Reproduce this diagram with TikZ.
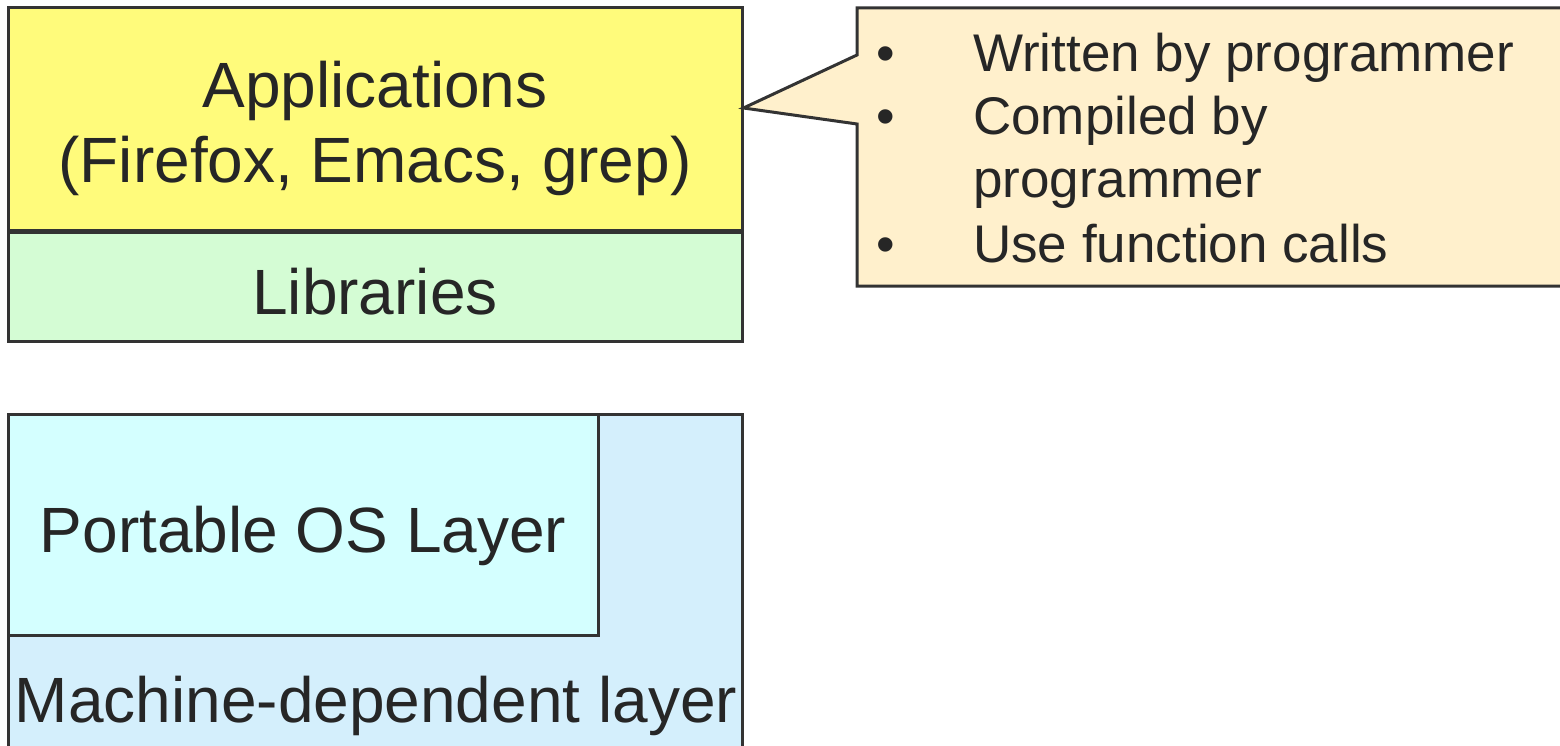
\documentclass[tikz,border=0pt]{standalone}
\usepackage{fontspec}
\setmainfont{Liberation Sans}

\definecolor{lineGray}{HTML}{333333}
\definecolor{textGray}{HTML}{262626}
\definecolor{appYellow}{HTML}{FFFB7B}
\definecolor{libGreen}{HTML}{D4FCD4}
\definecolor{portCyan}{HTML}{D4FFFF}
\definecolor{machBlue}{HTML}{D4EFFC}
\definecolor{noteTan}{HTML}{FFF0CC}

\begin{document}
\begin{tikzpicture}
[x=1pt,y=-1pt,
  layerBox/.style={shape=rectangle,draw=lineGray,line width=3pt,inner sep=0pt,%
    text=textGray,align=center,font=\fontsize{64}{75}\selectfont,%
    text height=55pt,text depth=0pt},
  layerText/.style={inner sep=0pt,text=textGray,font=\fontsize{64}{75}\selectfont},
  noteBox/.style={draw=lineGray,line width=3pt,fill=noteTan,line join=miter},
  noteText/.style={inner sep=0pt,text=textGray,font=\fontsize{53}{64}\selectfont}]
\useasboundingbox (0,0) rectangle (1560,746);
%% layer boxes
\node (apps) at (375,119) [layerBox,fill=appYellow,minimum width=734pt,minimum height=222pt,%
  text height=130pt,text depth=2pt]
  {Applications\\(Firefox, Emacs, grep)};
\node (libs) at (375,286.5) [layerBox,fill=libGreen,minimum width=734pt,minimum height=109pt]
  {Libraries};
\node (mach) at (375,587) [layerBox,fill=machBlue,minimum width=734pt,minimum height=346pt] {};
\node (port) at (303,524.5) [layerBox,fill=portCyan,minimum width=590pt,minimum height=221pt]
  {Portable OS Layer};
\node (machlabel) at (376,722) [layerText,anchor=base] {Machine-dependent layer};
%% callout on the applications box
\coordinate (tip) at (apps.east |- 0,108);
\draw[noteBox] (857,8) -- (1565,8) -- (1565,286) -- (857,286) -- (857,124)
  -- (tip) -- (857,55) -- cycle;
\foreach \txt/\yb [count=\i] in {
  Written by programmer/72, Compiled by/135, programmer/198, Use function calls/262}
{
  \node (item\i) at (973,\yb) [noteText,anchor=base west] {\txt};
}
\foreach \yb [count=\i] in {72,135,262}
{
  \node (dot\i) at (886,\yb) [noteText,anchor=base] {\textbullet};
}
\end{tikzpicture}
\end{document}
